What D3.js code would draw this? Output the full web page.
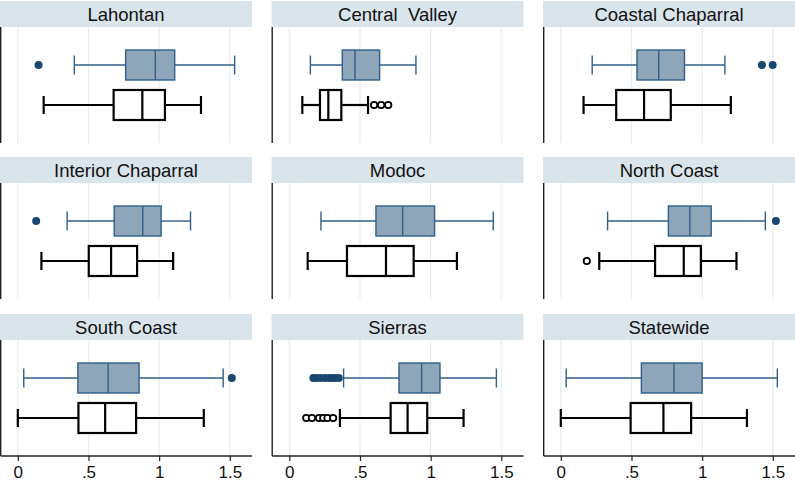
<!DOCTYPE html>
<html><head><meta charset="utf-8">
<script src="https://cdn.jsdelivr.net/npm/d3@7"></script>
<style>html,body{margin:0;padding:0;background:#fff;}svg{display:block;}</style>
</head><body>
<script>
const regions = ["Lahontan","Central  Valley","Coastal Chaparral","Interior Chaparral","Modoc","North Coast","South Coast","Sierras","Statewide"];
// [lower whisker, q1, median, q3, upper whisker]
const blueStats = [
  [0.40,0.763,0.973,1.11,1.534],
  [0.149,0.375,0.465,0.639,0.896],
  [0.222,0.539,0.693,0.875,1.161],
  [0.349,0.682,0.884,1.014,1.222],
  [0.224,0.613,0.802,1.028,1.443],
  [0.331,0.761,0.913,1.064,1.447],
  [0.042,0.425,0.639,0.858,1.453],
  [0.384,0.776,0.936,1.066,1.465],
  [0.038,0.570,0.801,1.0,1.532]
];
const blackStats = [
  [0.183,0.678,0.881,1.041,1.296],
  [0.092,0.217,0.276,0.368,0.557],
  [0.161,0.392,0.589,0.778,1.203],
  [0.167,0.502,0.660,0.844,1.099],
  [0.130,0.408,0.684,0.880,1.186],
  [0.272,0.667,0.870,0.991,1.243],
  [0.0,0.429,0.618,0.837,1.316],
  [0.358,0.717,0.837,0.976,1.233],
  [0.0,0.494,0.726,0.922,1.317]
];
const blueOutliers = [
  [0.147],[],[1.423,1.499],[0.130],[],[1.522],[1.514],
  [0.17,0.19,0.22,0.25,0.28,0.30,0.32,0.35],[]
];
const blackOutliers = [
  [],[0.60,0.65,0.70],[],[],[],[0.184],[],
  [0.12,0.16,0.21,0.24,0.27,0.31],[]
];
const xTicks = [0,0.5,1,1.5];
const xTickLabels = ["0",".5","1","1.5"];

const W=795,H=482;
const colLeft=[0,271.5,543], rowTop=[1,157,314];
const panelW=252, headH=26, plotH=116;
const svg=d3.select("body").append("svg").attr("width",W).attr("height",H);
const x=d3.scaleLinear().domain([-0.126,1.657]).range([0,panelW]);
const y=d3.scalePoint().domain(["blue","black"]).range([38,78]);
const boxH=30;
const sty={
  blue:{fill:"#8ea5ba",stroke:"#2f5f8a",sw:1.4,cap:19,dot:"#1a476f",open:false},
  black:{fill:"#ffffff",stroke:"#000000",sw:2.2,cap:18,dot:"#000",open:true}
};
const font="'Liberation Sans', Arial, Helvetica, sans-serif";

regions.forEach((name,i)=>{
  const c=i%3, r=Math.floor(i/3);
  const g=svg.append("g").attr("transform",`translate(${colLeft[c]},${rowTop[r]})`);
  g.append("rect").attr("x",0).attr("y",0).attr("width",panelW).attr("height",headH).attr("fill","#d9e4eb");
  g.append("text").attr("x",panelW/2).attr("y",19.5).attr("text-anchor","middle")
    .style("white-space","pre").attr("font-family",font).attr("font-size",18.5).attr("fill","#111").text(name);
  const p=g.append("g").attr("transform",`translate(0,${headH})`);
  p.selectAll("line.grid").data(xTicks).join("line").attr("class","grid")
    .attr("x1",d=>x(d)).attr("x2",d=>x(d)).attr("y1",0).attr("y2",plotH)
    .attr("stroke","#e4edf1").attr("stroke-width",1.2);
  p.append("line").attr("x1",0.7).attr("x2",0.7).attr("y1",0).attr("y2",plotH).attr("stroke","#222").attr("stroke-width",1.4);
  if(r===2){
    const ax=p.append("g").attr("transform",`translate(0,${plotH})`)
      .call(d3.axisBottom(x).tickValues(xTicks).tickFormat((d,k)=>xTickLabels[k]).tickSize(5).tickPadding(5).tickSizeOuter(0));
    ax.select(".domain").attr("stroke","#222").attr("stroke-width",1.4).attr("d",`M0.7,0H${panelW}`);
    ax.selectAll(".tick line").attr("stroke","#222").attr("stroke-width",1.2);
    ax.selectAll(".tick text").attr("font-family",font).attr("font-size",17).attr("fill","#111");
  }
  const series=[["blue",blueStats[i],blueOutliers[i]],["black",blackStats[i],blackOutliers[i]]];
  series.forEach(([key,s,outs])=>{
    const st=sty[key], cy=y(key);
    const b=p.append("g");
    b.append("line").attr("x1",x(s[0])).attr("x2",x(s[1])).attr("y1",cy).attr("y2",cy).attr("stroke",st.stroke).attr("stroke-width",st.sw);
    b.append("line").attr("x1",x(s[3])).attr("x2",x(s[4])).attr("y1",cy).attr("y2",cy).attr("stroke",st.stroke).attr("stroke-width",st.sw);
    [s[0],s[4]].forEach(v=>b.append("line").attr("x1",x(v)).attr("x2",x(v)).attr("y1",cy-st.cap/2).attr("y2",cy+st.cap/2).attr("stroke",st.stroke).attr("stroke-width",st.sw));
    b.append("rect").attr("x",x(s[1])).attr("y",cy-boxH/2).attr("width",x(s[3])-x(s[1])).attr("height",boxH)
      .attr("fill",st.fill).attr("stroke",st.stroke).attr("stroke-width",st.sw);
    b.append("line").attr("x1",x(s[2])).attr("x2",x(s[2])).attr("y1",cy-boxH/2).attr("y2",cy+boxH/2).attr("stroke",st.stroke).attr("stroke-width",st.sw);
    b.selectAll("circle").data(outs).join("circle").attr("cx",d=>x(d)).attr("cy",cy)
      .attr("r",st.open?3.2:4)
      .attr("fill",st.open?"#fff":st.dot).attr("stroke",st.open?"#000":"none").attr("stroke-width",st.open?1.8:0);
  });
});
</script>
</body></html>
